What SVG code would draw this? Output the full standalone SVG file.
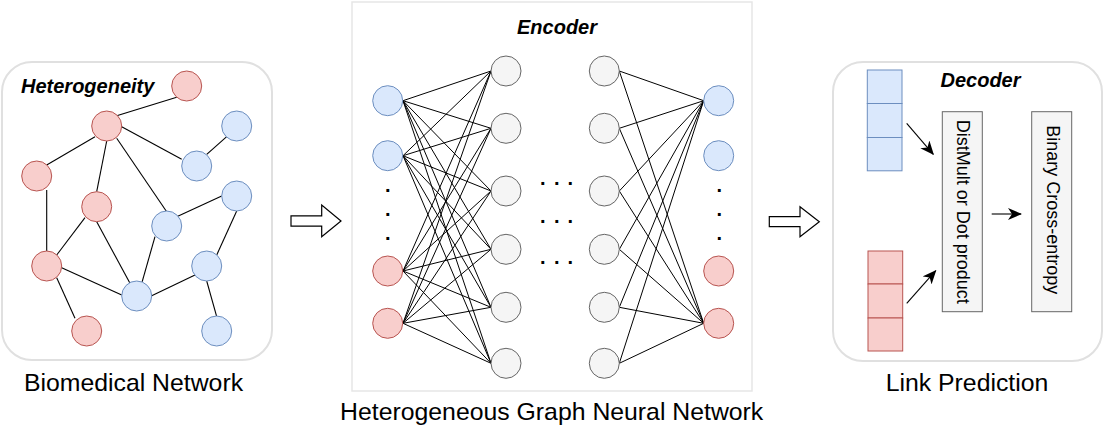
<svg xmlns="http://www.w3.org/2000/svg" width="1103" height="432" viewBox="0 0 1103 432">
<defs>
<style>
text{font-family:"Liberation Sans",Arial,Helvetica,sans-serif;fill:#000}
.panel{fill:#fff;stroke:#e0e0e0;stroke-width:2}
.frame{fill:#fff;stroke:#e6e6e6;stroke-width:1.5}
.red{fill:#f8cecc;stroke:#b85450;stroke-width:1}
.blue{fill:#dae8fc;stroke:#6c8ebf;stroke-width:1}
.grey{fill:#f5f5f5;stroke:#666;stroke-width:1}
.edge{stroke:#000;stroke-width:1.1;fill:none}
.enc{stroke:#000;stroke-width:1;fill:none}
.title{font-size:20px;font-weight:bold;font-style:italic}
.label{font-size:24.8px}
.vtext{font-size:18px}
.dots{font-size:20px;font-weight:bold;text-anchor:middle}
.hollow{fill:#fff;stroke:#000;stroke-width:1.2}
</style>
<marker id="arr" markerUnits="userSpaceOnUse" markerWidth="14" markerHeight="12" refX="13" refY="6" orient="auto">
<path d="M0,0 L14,6 L0,12 L4,6 Z" fill="#000"/>
</marker>
</defs>
<rect width="1103" height="432" fill="#fff"/>

<!-- Panels -->
<g id="biomedical-network">
<rect class="panel" x="2" y="62" width="270" height="298" rx="30"/>
<text class="title" x="21" y="93">Heterogeneity</text>
<text class="label" x="133.5" y="390.7" text-anchor="middle">Biomedical Network</text>
</g>
<g id="hgnn-panel">
<rect class="frame" x="352" y="2" width="400" height="389"/>
<text class="title" x="557" y="34" text-anchor="middle">Encoder</text>
<text class="label" x="551.7" y="420" text-anchor="middle">Heterogeneous Graph Neural Network</text>
</g>
<g id="link-prediction-panel">
<rect class="panel" x="833" y="62" width="269" height="299" rx="30"/>
<text class="title" x="980.5" y="87.3" text-anchor="middle">Decoder</text>
<text class="label" x="967" y="390.7" text-anchor="middle">Link Prediction</text>
</g>

<!-- Connectors -->
<g id="connectors">
<!-- biomedical network edges -->
<line class="edge" x1="176.7" y1="97.3" x2="116.7" y2="115.7"/>
<line class="edge" x1="95" y1="136.7" x2="46.7" y2="165"/>
<line class="edge" x1="106.7" y1="141" x2="96.7" y2="191.7"/>
<line class="edge" x1="121.7" y1="126.7" x2="181.7" y2="159.3"/>
<line class="edge" x1="116.7" y1="138.3" x2="166.7" y2="211.7"/>
<line class="edge" x1="226.7" y1="136.7" x2="206.7" y2="154.3"/>
<line class="edge" x1="46.7" y1="190" x2="46.7" y2="252"/>
<line class="edge" x1="85" y1="217.7" x2="56.7" y2="255"/>
<line class="edge" x1="96.7" y1="221.7" x2="130" y2="283.3"/>
<line class="edge" x1="176.7" y1="216.7" x2="221.7" y2="196"/>
<line class="edge" x1="155" y1="236.7" x2="141.7" y2="283.3"/>
<line class="edge" x1="236.7" y1="211" x2="216.7" y2="255"/>
<line class="edge" x1="195" y1="275" x2="151.7" y2="295.7"/>
<line class="edge" x1="206.7" y1="281" x2="216.7" y2="316.7"/>
<line class="edge" x1="61.7" y1="267.7" x2="121.7" y2="295"/>
<line class="edge" x1="56.7" y1="277.7" x2="75" y2="318.3"/>

<!-- encoder: input layer to first hidden layer (full) -->
<g class="enc">
<line x1="403" y1="100.7" x2="491" y2="71"/><line x1="403" y1="100.7" x2="491" y2="128.3"/><line x1="403" y1="100.7" x2="491" y2="191"/><line x1="403" y1="100.7" x2="491" y2="249.3"/><line x1="403" y1="100.7" x2="491" y2="307.3"/><line x1="403" y1="100.7" x2="491" y2="363.3"/>
<line x1="403" y1="155.7" x2="491" y2="71"/><line x1="403" y1="155.7" x2="491" y2="128.3"/><line x1="403" y1="155.7" x2="491" y2="191"/><line x1="403" y1="155.7" x2="491" y2="249.3"/><line x1="403" y1="155.7" x2="491" y2="307.3"/><line x1="403" y1="155.7" x2="491" y2="363.3"/>
<line x1="403" y1="271" x2="491" y2="71"/><line x1="403" y1="271" x2="491" y2="128.3"/><line x1="403" y1="271" x2="491" y2="191"/><line x1="403" y1="271" x2="491" y2="249.3"/><line x1="403" y1="271" x2="491" y2="307.3"/><line x1="403" y1="271" x2="491" y2="363.3"/>
<line x1="403" y1="323.3" x2="491" y2="71"/><line x1="403" y1="323.3" x2="491" y2="128.3"/><line x1="403" y1="323.3" x2="491" y2="191"/><line x1="403" y1="323.3" x2="491" y2="249.3"/><line x1="403" y1="323.3" x2="491" y2="307.3"/><line x1="403" y1="323.3" x2="491" y2="363.3"/>
<!-- last hidden layer to output -->
<line x1="619.3" y1="71" x2="703.7" y2="100.7"/><line x1="619.3" y1="71" x2="703.7" y2="323.3"/>
<line x1="619.3" y1="128.3" x2="703.7" y2="100.7"/><line x1="619.3" y1="128.3" x2="703.7" y2="323.3"/>
<line x1="619.3" y1="191" x2="703.7" y2="100.7"/><line x1="619.3" y1="191" x2="703.7" y2="323.3"/>
<line x1="619.3" y1="249.3" x2="703.7" y2="100.7"/><line x1="619.3" y1="249.3" x2="703.7" y2="323.3"/>
<line x1="619.3" y1="307.3" x2="703.7" y2="100.7"/><line x1="619.3" y1="307.3" x2="703.7" y2="323.3"/>
<line x1="619.3" y1="363.3" x2="703.7" y2="100.7"/><line x1="619.3" y1="363.3" x2="703.7" y2="323.3"/>
</g>

<!-- big hollow arrows between panels -->
<path class="hollow" d="M291,215.8 L321.7,215.8 L321.7,205 L341,221 L321.7,236.8 L321.7,226.2 L291,226.2 Z"/>
<path class="hollow" d="M769.3,216.7 L800,216.7 L800,206.7 L819.3,221.7 L800,236.7 L800,226.7 L769.3,226.7 Z"/>

<!-- decoder arrows -->
<line class="edge" x1="906.7" y1="123.3" x2="933.3" y2="154.3" marker-end="url(#arr)"/>
<line class="edge" x1="906.7" y1="303.3" x2="935.7" y2="270.7" marker-end="url(#arr)"/>
<line class="edge" x1="991.7" y1="214" x2="1021" y2="214" marker-end="url(#arr)"/>
</g>

<!-- Biomedical network nodes -->
<g id="bio-nodes">
<circle id="r0" class="red" cx="186.7" cy="86" r="15"/>
<circle id="r1" class="red" cx="106.7" cy="126" r="15"/>
<circle id="b0" class="blue" cx="236.7" cy="126" r="15"/>
<circle id="b1" class="blue" cx="196.7" cy="166" r="15"/>
<circle id="r2" class="red" cx="36.7" cy="176" r="15"/>
<circle id="r3" class="red" cx="96.7" cy="206.7" r="15"/>
<circle id="b2" class="blue" cx="236.7" cy="196" r="15"/>
<circle id="b3" class="blue" cx="166.7" cy="226" r="15"/>
<circle id="r4" class="red" cx="46.7" cy="266" r="15"/>
<circle id="b4" class="blue" cx="206.7" cy="266" r="15"/>
<circle id="b5" class="blue" cx="136.7" cy="296" r="15"/>
<circle id="r5" class="red" cx="86.7" cy="331" r="15"/>
<circle id="b6" class="blue" cx="216.7" cy="331" r="15"/>
</g>

<!-- Encoder nodes -->
<g id="enc-input">
<circle class="blue" cx="387.7" cy="100.7" r="15"/>
<circle class="blue" cx="387.7" cy="155.7" r="15"/>
<circle class="red" cx="387.7" cy="271" r="15"/>
<circle class="red" cx="387.7" cy="323.3" r="15"/>
<text class="dots" x="387.7 387.7 387.7" y="192.1 215.7 239.7">...</text>
</g>
<g id="enc-hidden-1">
<circle class="grey" cx="506" cy="71" r="15"/>
<circle class="grey" cx="506" cy="128.3" r="15"/>
<circle class="grey" cx="506" cy="191" r="15"/>
<circle class="grey" cx="506" cy="249.3" r="15"/>
<circle class="grey" cx="506" cy="307.3" r="15"/>
<circle class="grey" cx="506" cy="363.3" r="15"/>
</g>
<g id="enc-ellipsis">
<text class="dots" x="542.7 556.7 570.3" y="185.1 185.1 185.1">...</text>
<text class="dots" x="542.7 556.7 570.3" y="223.1 223.1 223.1">...</text>
<text class="dots" x="542.7 556.7 570.3" y="263.7 263.7 263.7">...</text>
</g>
<g id="enc-hidden-2">
<circle class="grey" cx="604.3" cy="71" r="15"/>
<circle class="grey" cx="604.3" cy="128.3" r="15"/>
<circle class="grey" cx="604.3" cy="191" r="15"/>
<circle class="grey" cx="604.3" cy="249.3" r="15"/>
<circle class="grey" cx="604.3" cy="307.3" r="15"/>
<circle class="grey" cx="604.3" cy="363.3" r="15"/>
</g>
<g id="enc-output">
<circle class="blue" cx="718.7" cy="100.7" r="15"/>
<circle class="blue" cx="718.7" cy="155.7" r="15"/>
<circle class="red" cx="718.7" cy="271" r="15"/>
<circle class="red" cx="718.7" cy="323.3" r="15"/>
<text class="dots" x="719.3 719.3 719.3" y="192.1 215.7 239.7">...</text>
</g>

<!-- Decoder nodes -->
<g id="blue-vector">
<rect class="blue" x="867.3" y="70" width="34.7" height="33.5"/>
<rect class="blue" x="867.3" y="103.5" width="34.7" height="34"/>
<rect class="blue" x="867.3" y="137.5" width="34.7" height="33.3"/>
</g>
<g id="red-vector">
<rect class="red" x="868" y="251" width="34.7" height="33"/>
<rect class="red" x="868" y="284" width="34.7" height="34"/>
<rect class="red" x="868" y="318" width="34.7" height="33"/>
</g>
<g id="distmult">
<rect class="grey" x="942.3" y="111.7" width="40" height="200"/>
<text class="vtext" transform="translate(956.6,211.7) rotate(90)" text-anchor="middle">DistMult or Dot product</text>
</g>
<g id="bce">
<rect class="grey" x="1031.7" y="111.7" width="40" height="200"/>
<text class="vtext" transform="translate(1046.6,209.7) rotate(90)" text-anchor="middle">Binary Cross-entropy</text>
</g>
</svg>
